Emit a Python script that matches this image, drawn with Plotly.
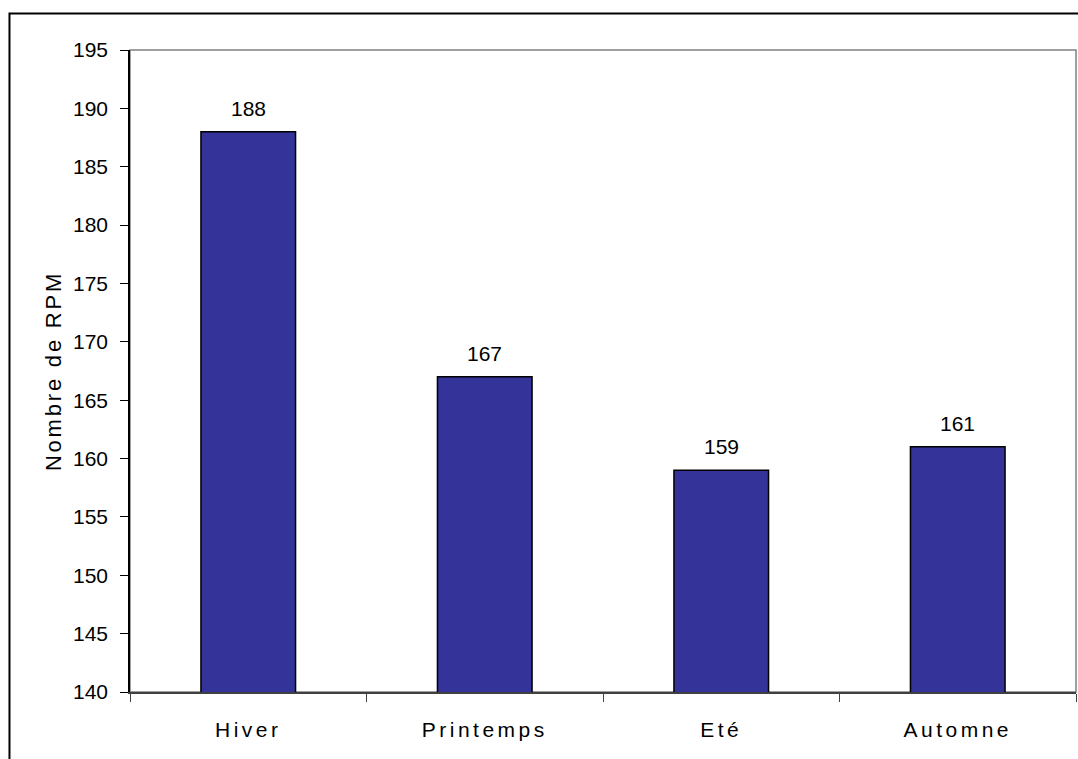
import plotly.graph_objects as go

# Seasons and their counts
saisons = ["Hiver", "Printemps", "Eté", "Automne"]
nombre_rpm = [188, 167, 159, 161]
y_ticks = list(range(140, 196, 5))

FONT = "Liberation Sans, Arial, sans-serif"


def spaced(txt, px):
    """Wrap a label in a span with extra letter spacing."""
    return f'<span style="letter-spacing:{px}px">{txt}</span>'


fig = go.Figure(
    go.Bar(
        x=saisons,
        y=nombre_rpm,
        marker=dict(color="#333399", line=dict(color="black", width=1.5)),
        width=0.4,
        hoverinfo="x+y",
    )
)

# Value labels above each bar
for s, v in zip(saisons, nombre_rpm):
    fig.add_annotation(
        x=s, y=v, text=str(v), showarrow=False,
        yanchor="bottom", yshift=10,
        font=dict(family=FONT, size=21, color="black"),
    )

# Plot-area frame (grey) and outer chart frame (black)
fig.add_shape(type="rect", xref="paper", yref="paper", x0=0, x1=1, y0=0, y1=1,
              line=dict(color="#808080", width=1.5), layer="below")
fig.add_shape(type="rect", xref="paper", yref="paper",
              x0=-0.1274, x1=1.2, y0=-0.3, y1=1.0569,
              line=dict(color="black", width=2), layer="below")

fig.update_layout(
    width=1078, height=759,
    margin=dict(l=130, r=2, t=50, b=67),
    paper_bgcolor="white", plot_bgcolor="white",
    font=dict(family=FONT, size=21, color="black"),
    showlegend=False,
    bargap=0.6,
)

fig.update_xaxes(
    type="category",
    tickvals=saisons,
    ticktext=[spaced(s, 3.5) for s in saisons],
    showline=True, linecolor="#404040", linewidth=1.5,
    ticks="outside", tickson="boundaries", ticklen=8, tickcolor="#404040", tickwidth=1,
    tickfont=dict(family=FONT, size=21),
    ticklabelstandoff=18,
    showgrid=False,
)

fig.update_yaxes(
    range=[140, 195],
    tickvals=y_ticks,
    showline=True, linecolor="black", linewidth=1.5,
    ticks="outside", ticklen=8, tickcolor="black", tickwidth=1,
    tickfont=dict(family=FONT, size=21),
    ticklabelstandoff=8,
    showgrid=False, zeroline=False,
    title=dict(text=spaced("Nombre de RPM", 2.8), font=dict(family=FONT, size=22), standoff=5),
)

fig.write_html("out.html")
